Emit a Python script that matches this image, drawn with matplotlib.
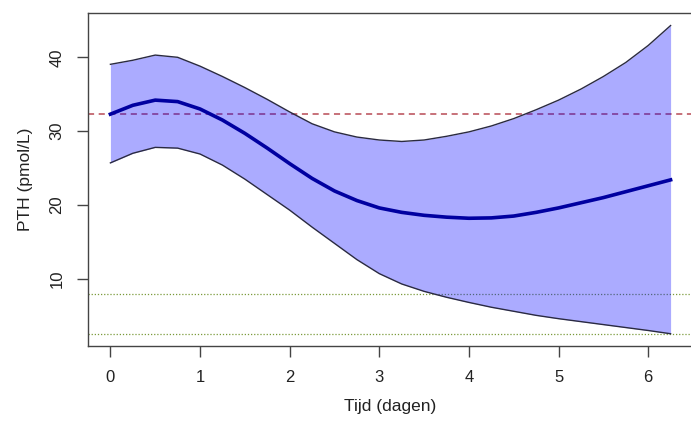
import numpy as np
import matplotlib
matplotlib.use('Agg')
import matplotlib.pyplot as plt

plt.rcParams['font.family'] = ['Liberation Sans', 'DejaVu Sans']

# Days and fitted PTH curve with its confidence band
days = [0, 0.25, 0.5, 0.75, 1.0, 1.25, 1.5, 1.75, 2.0, 2.25, 2.5, 2.75, 3.0,
        3.25, 3.5, 3.75, 4.0, 4.25, 4.5, 4.75, 5.0, 5.25, 5.5, 5.75, 6.0, 6.25]
pth_fit = [32.3, 33.5, 34.2, 34.0, 33.0, 31.5, 29.7, 27.7, 25.6, 23.6, 21.9, 20.6, 19.6,
           19.0, 18.6, 18.35, 18.2, 18.25, 18.5, 19.0, 19.6, 20.3, 21.0, 21.8, 22.6, 23.4]
pth_upper = [39.05, 39.6, 40.3, 40.0, 38.8, 37.4, 35.9, 34.3, 32.6, 31.0, 29.9, 29.2, 28.8,
             28.6, 28.8, 29.3, 29.9, 30.7, 31.7, 32.9, 34.2, 35.7, 37.4, 39.3, 41.6, 44.3]
pth_lower = [25.7, 27.0, 27.8, 27.7, 26.9, 25.4, 23.5, 21.4, 19.3, 17.0, 14.8, 12.6, 10.7,
             9.3, 8.3, 7.5, 6.8, 6.15, 5.6, 5.05, 4.6, 4.2, 3.8, 3.4, 3.0, 2.56]

ref_red = 32.3
ref_green = [7.95, 2.56]

fig = plt.figure(figsize=(6.91, 4.21), dpi=100)
ax = fig.add_axes([88 / 691, 75 / 421, 605 / 691, 333 / 421])

# reference lines first so the band is drawn over them
ax.axhline(ref_red, color='#b84a55', lw=1.1, ls=(0, (4, 3)), zorder=1)
for g in ref_green:
    ax.axhline(g, color='#7a9a3a', lw=0.9, ls=(0, (1, 1.5)), zorder=1)

ax.fill_between(days, pth_lower, pth_upper, color='#0000ff', alpha=0.33, lw=0, zorder=2)
ax.plot(days, pth_upper, color='#2a2a40', lw=1.0, zorder=3)
ax.plot(days, pth_lower, color='#2a2a40', lw=1.0, zorder=3)
ax.plot(days, pth_fit, color='#0000a0', lw=2.6, zorder=4)

ax.set_xlim(-0.25, 6.5)
ax.set_ylim(0.9, 46.0)
ax.set_xticks(range(7))
ax.set_yticks([10, 20, 30, 40])

for s in ax.spines.values():
    s.set_color('#444444')
    s.set_linewidth(1.0)

ax.tick_params(axis='both', length=8, width=1.0, color='#444444', pad=9,
               labelsize=12, labelcolor='#222222')
for lbl in ax.get_yticklabels():
    lbl.set_rotation(90)
    lbl.set_va('center')

ax.set_xlabel('Tijd (dagen)', fontsize=12.5, color='#222222', labelpad=10)
ax.set_ylabel('PTH (pmol/L)', fontsize=12.5, color='#222222', labelpad=12)

fig.savefig('out.png', dpi=100)
